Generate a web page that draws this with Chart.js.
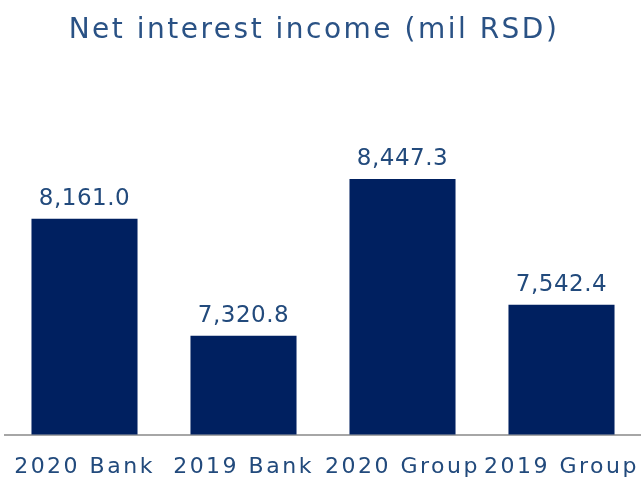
<!DOCTYPE html>
<html lang="en">

<head>
    <meta charset="UTF-8">
    <title>Net interest income</title>
    <script src="https://cdn.jsdelivr.net/npm/chart.js"></script>
    <style>
        html, body { margin: 0; padding: 0; background: #fff; }
        #wrap { width: 641px; height: 479px; }
    </style>
</head>

<body>
    <div id="wrap"><canvas id="niiChart"></canvas></div>

    <script>
        // categories and values (mil RSD)
        const labels = ['2020 Bank', '2019 Bank', '2020 Group', '2019 Group'];
        const incomeValues = [8161.0, 7320.8, 8447.3, 7542.4];
        const chartTitle = 'Net interest income (mil RSD)';

        const textColor = '#224A7C';
        const barColor = '#002060';

        // wider text spacing for the axis labels
        const spacingPlugin = {
            id: 'spacing',
            beforeDraw(chart) {
                chart.ctx.letterSpacing = '2.5px';
            }
        };

        // title on top and value labels above each bar
        const valueLabels = {
            id: 'valueLabels',
            afterDatasetsDraw(chart) {
                const ctx = chart.ctx;
                const meta = chart.getDatasetMeta(0);
                ctx.save();
                ctx.letterSpacing = '0.5px';
                ctx.font = '23px "DejaVu Sans"';
                ctx.fillStyle = textColor;
                ctx.textAlign = 'center';
                ctx.textBaseline = 'alphabetic';
                meta.data.forEach((bar, i) => {
                    const txt = incomeValues[i].toLocaleString('en-US', { minimumFractionDigits: 1, maximumFractionDigits: 1 });
                    ctx.fillText(txt, bar.x, bar.y - 14);
                });

                ctx.letterSpacing = '2.5px';
                ctx.font = '28px "DejaVu Sans"';
                ctx.fillStyle = '#2A5285';
                ctx.fillText(chartTitle, 314, 38);
                ctx.restore();
            }
        };

        const ctx = document.getElementById('niiChart').getContext('2d');
        new Chart(ctx, {
            type: 'bar',
            data: {
                labels: labels,
                datasets: [{
                    data: incomeValues,
                    backgroundColor: barColor,
                    categoryPercentage: 1,
                    barPercentage: 0.667
                }]
            },
            options: {
                responsive: true,
                maintainAspectRatio: false,
                animation: false,
                layout: {
                    padding: { left: 5, right: 0, top: 70, bottom: -12 }
                },
                scales: {
                    x: {
                        grid: { display: false },
                        border: { display: true, color: '#A6A6A6', width: 2 },
                        ticks: {
                            color: textColor,
                            font: { family: 'DejaVu Sans', size: 22 },
                            autoSkip: false,
                            maxRotation: 0,
                            minRotation: 0,
                            padding: 11
                        }
                    },
                    y: {
                        display: false,
                        min: 6610,
                        max: 9230
                    }
                },
                plugins: {
                    legend: { display: false },
                    tooltip: { enabled: false },
                    title: { display: false }
                }
            },
            plugins: [spacingPlugin, valueLabels]
        });
    </script>
</body>

</html>
